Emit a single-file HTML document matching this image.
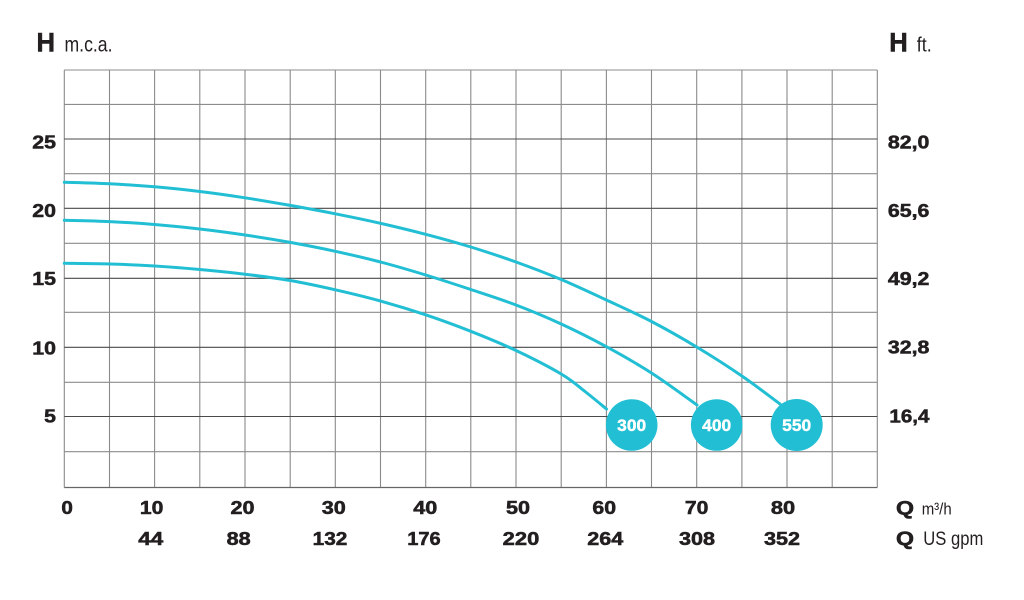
<!DOCTYPE html>
<html>
<head>
<meta charset="utf-8">
<style>
html,body{margin:0;padding:0;background:#fff;}
svg{display:block;}
text{font-family:"Liberation Sans",Arial,sans-serif;fill:#231f20;}
.b{font-weight:bold;stroke:#231f20;stroke-width:0.55px;}
.w{font-weight:bold;fill:#fff;stroke:#fff;stroke-width:0.4px;}
</style>
</head>
<body>
<svg width="1024" height="600" viewBox="0 0 1024 600" xmlns="http://www.w3.org/2000/svg">
<rect width="1024" height="600" fill="#fff"/>
<!-- vertical grid -->
<g stroke="#8a8a8a" stroke-width="1.1">
<line x1="64.3" y1="70" x2="64.3" y2="487.5"/>
<line x1="109.5" y1="70" x2="109.5" y2="487.5"/>
<line x1="154.6" y1="70" x2="154.6" y2="487.5"/>
<line x1="199.8" y1="70" x2="199.8" y2="487.5"/>
<line x1="245" y1="70" x2="245" y2="487.5"/>
<line x1="290.2" y1="70" x2="290.2" y2="487.5"/>
<line x1="335.3" y1="70" x2="335.3" y2="487.5"/>
<line x1="380.5" y1="70" x2="380.5" y2="487.5"/>
<line x1="425.7" y1="70" x2="425.7" y2="487.5"/>
<line x1="470.8" y1="70" x2="470.8" y2="487.5"/>
<line x1="516" y1="70" x2="516" y2="487.5"/>
<line x1="561.2" y1="70" x2="561.2" y2="487.5"/>
<line x1="606.4" y1="70" x2="606.4" y2="487.5"/>
<line x1="651.5" y1="70" x2="651.5" y2="487.5"/>
<line x1="696.7" y1="70" x2="696.7" y2="487.5"/>
<line x1="741.9" y1="70" x2="741.9" y2="487.5"/>
<line x1="787" y1="70" x2="787" y2="487.5"/>
<line x1="832.2" y1="70" x2="832.2" y2="487.5"/>
<line x1="877.3" y1="70" x2="877.3" y2="487.5"/>
</g>
<!-- horizontal grid light -->
<g stroke="#8c8c8c" stroke-width="1.1">
<line x1="64.3" y1="70" x2="877.3" y2="70"/>
<line x1="64.3" y1="104.4" x2="877.3" y2="104.4"/>
<line x1="64.3" y1="173.7" x2="877.3" y2="173.7"/>
<line x1="64.3" y1="243.3" x2="877.3" y2="243.3"/>
<line x1="64.3" y1="312.3" x2="877.3" y2="312.3"/>
<line x1="64.3" y1="382.3" x2="877.3" y2="382.3"/>
<line x1="64.3" y1="451.7" x2="877.3" y2="451.7"/>
</g>
<!-- horizontal grid dark -->
<g stroke="#4a4a4a" stroke-width="1.1">
<line x1="64.3" y1="139" x2="877.3" y2="139"/>
<line x1="64.3" y1="208.3" x2="877.3" y2="208.3"/>
<line x1="64.3" y1="278.3" x2="877.3" y2="278.3"/>
<line x1="64.3" y1="347.3" x2="877.3" y2="347.3"/>
<line x1="64.3" y1="416.5" x2="877.3" y2="416.5"/>
</g>
<line x1="64.3" y1="487.5" x2="877.3" y2="487.5" stroke="#666" stroke-width="1.2"/>

<!-- curves -->
<g fill="none" stroke="#22bfd4" stroke-width="3" stroke-linejoin="round" stroke-linecap="round">
<path class="crv" data-p="64.3,182.3 109.5,183.8 154.6,186.8 199.8,191.5 245,197.8 290.2,205.4 335.3,213.8 380.5,223.3 425.7,234.3 470.8,247 516,262 561.2,279.5 606.4,300 651.5,321.5 696.7,347 741.9,376 780,404" d="M64.3,182.3 L109.5,183.8 L154.6,186.8 L199.8,191.5 L245,197.8 L290.2,205.4 L335.3,213.8 L380.5,223.3 L425.7,234.3 L470.8,247 L516,262 L561.2,279.5 L606.4,300 L651.5,321.5 L696.7,347 L741.9,376 L780,404"/>
<path class="crv" data-p="64.3,220.3 109.5,221.6 154.6,224.5 199.8,229 245,235 290.2,242.4 335.3,251.3 380.5,262 425.7,275 470.8,289.5 516,305 561.2,324 606.4,346.7 651.5,373 697,405" d="M64.3,220.3 L109.5,221.6 L154.6,224.5 L199.8,229 L245,235 L290.2,242.4 L335.3,251.3 L380.5,262 L425.7,275 L470.8,289.5 L516,305 L561.2,324 L606.4,346.7 L651.5,373 L697,405"/>
<path class="crv" data-p="64.3,263.3 109.5,264 154.6,266 199.8,269.5 245,274.2 290.2,280.5 335.3,289.8 380.5,301 425.7,314.8 470.8,331.3 516,350.5 561.2,374 585,391.5 606.5,409" d="M64.3,263.3 L109.5,264 L154.6,266 L199.8,269.5 L245,274.2 L290.2,280.5 L335.3,289.8 L380.5,301 L425.7,314.8 L470.8,331.3 L516,350.5 L561.2,374 L585,391.5 L606.5,409"/>
</g>

<!-- circles -->
<g fill="#22bfd4">
<circle cx="631.7" cy="425" r="25.8"/>
<circle cx="716.7" cy="425" r="25.8"/>
<circle cx="796.7" cy="425" r="26"/>
</g>
<g font-size="17" text-anchor="middle">
<text class="w" x="631.7" y="430.8" textLength="29" lengthAdjust="spacingAndGlyphs">300</text>
<text class="w" x="716.7" y="430.8" textLength="29" lengthAdjust="spacingAndGlyphs">400</text>
<text class="w" x="796.7" y="430.8" textLength="29" lengthAdjust="spacingAndGlyphs">550</text>
</g>

<!-- headers -->
<text class="b" x="36.5" y="51.7" font-size="26.5" textLength="18.5" lengthAdjust="spacingAndGlyphs">H</text>
<text x="64.5" y="51.7" font-size="21" textLength="48" lengthAdjust="spacingAndGlyphs">m.c.a.</text>
<text class="b" x="889.3" y="51.7" font-size="26.5" textLength="18.5" lengthAdjust="spacingAndGlyphs">H</text>
<text x="916.7" y="51.7" font-size="20" textLength="15" lengthAdjust="spacingAndGlyphs">ft.</text>

<!-- left labels -->
<g font-size="18.5" text-anchor="end">
<text class="b" x="56" y="148.3" textLength="23.7" lengthAdjust="spacingAndGlyphs">25</text>
<text class="b" x="56" y="216.8" textLength="23.7" lengthAdjust="spacingAndGlyphs">20</text>
<text class="b" x="56" y="285" textLength="23.7" lengthAdjust="spacingAndGlyphs">15</text>
<text class="b" x="56" y="354.3" textLength="23.7" lengthAdjust="spacingAndGlyphs">10</text>
<text class="b" x="56" y="422.3" textLength="11.8" lengthAdjust="spacingAndGlyphs">5</text>
</g>
<!-- right labels -->
<g font-size="18.5" text-anchor="end">
<text class="b" x="929.4" y="148.3" textLength="41.5" lengthAdjust="spacingAndGlyphs">82,0</text>
<text class="b" x="929.4" y="216.8" textLength="41.5" lengthAdjust="spacingAndGlyphs">65,6</text>
<text class="b" x="929.4" y="285" textLength="41.5" lengthAdjust="spacingAndGlyphs">49,2</text>
<text class="b" x="929.4" y="353.5" textLength="41.5" lengthAdjust="spacingAndGlyphs">32,8</text>
<text class="b" x="929.4" y="422.3" textLength="40" lengthAdjust="spacingAndGlyphs">16,4</text>
</g>
<!-- bottom labels row 1 -->
<g font-size="18.5" text-anchor="middle">
<text class="b" x="67.2" y="514" textLength="11.5" lengthAdjust="spacingAndGlyphs">0</text>
<text class="b" x="151.7" y="514" textLength="23.5" lengthAdjust="spacingAndGlyphs">10</text>
<text class="b" x="242.5" y="514" textLength="24" lengthAdjust="spacingAndGlyphs">20</text>
<text class="b" x="333.8" y="514" textLength="24" lengthAdjust="spacingAndGlyphs">30</text>
<text class="b" x="425.3" y="514" textLength="24" lengthAdjust="spacingAndGlyphs">40</text>
<text class="b" x="518" y="514" textLength="24" lengthAdjust="spacingAndGlyphs">50</text>
<text class="b" x="604.2" y="514" textLength="23.7" lengthAdjust="spacingAndGlyphs">60</text>
<text class="b" x="696.7" y="514" textLength="23.5" lengthAdjust="spacingAndGlyphs">70</text>
<text class="b" x="783" y="514" textLength="24.3" lengthAdjust="spacingAndGlyphs">80</text>
</g>
<!-- bottom labels row 2 -->
<g font-size="18.5" text-anchor="middle">
<text class="b" x="150.8" y="545" textLength="25" lengthAdjust="spacingAndGlyphs">44</text>
<text class="b" x="238.7" y="545" textLength="24" lengthAdjust="spacingAndGlyphs">88</text>
<text class="b" x="330" y="545" textLength="34.7" lengthAdjust="spacingAndGlyphs">132</text>
<text class="b" x="424" y="545" textLength="33.4" lengthAdjust="spacingAndGlyphs">176</text>
<text class="b" x="521" y="545" textLength="36.6" lengthAdjust="spacingAndGlyphs">220</text>
<text class="b" x="605.3" y="545" textLength="36" lengthAdjust="spacingAndGlyphs">264</text>
<text class="b" x="697" y="545" textLength="36" lengthAdjust="spacingAndGlyphs">308</text>
<text class="b" x="782" y="545" textLength="36" lengthAdjust="spacingAndGlyphs">352</text>
</g>
<!-- Q labels -->
<text class="b" x="896" y="514.3" font-size="19" textLength="18" lengthAdjust="spacingAndGlyphs">Q</text>
<text x="921.7" y="514.5" font-size="17" textLength="30" lengthAdjust="spacingAndGlyphs">m³/h</text>
<text class="b" x="896" y="545.2" font-size="19" textLength="18" lengthAdjust="spacingAndGlyphs">Q</text>
<text x="923.3" y="545.2" font-size="19" textLength="60" lengthAdjust="spacingAndGlyphs">US gpm</text>
</svg>
<script>
(function(){
  var ps=document.querySelectorAll('path.crv');
  for(var k=0;k<ps.length;k++){
    var el=ps[k];
    var pts=el.getAttribute('data-p').split(' ').map(function(s){var a=s.split(',');return [parseFloat(a[0]),parseFloat(a[1])];});
    var d='M'+pts[0][0]+','+pts[0][1];
    for(var i=0;i<pts.length-1;i++){
      var p0=pts[i>0?i-1:0],p1=pts[i],p2=pts[i+1],p3=pts[i+2<pts.length?i+2:i+1];
      var c1x=p1[0]+(p2[0]-p0[0])/6,c1y=p1[1]+(p2[1]-p0[1])/6;
      var c2x=p2[0]-(p3[0]-p1[0])/6,c2y=p2[1]-(p3[1]-p1[1])/6;
      d+=' C'+c1x.toFixed(2)+','+c1y.toFixed(2)+' '+c2x.toFixed(2)+','+c2y.toFixed(2)+' '+p2[0]+','+p2[1];
    }
    el.setAttribute('d',d);
  }
})();
</script>
</body>
</html>
